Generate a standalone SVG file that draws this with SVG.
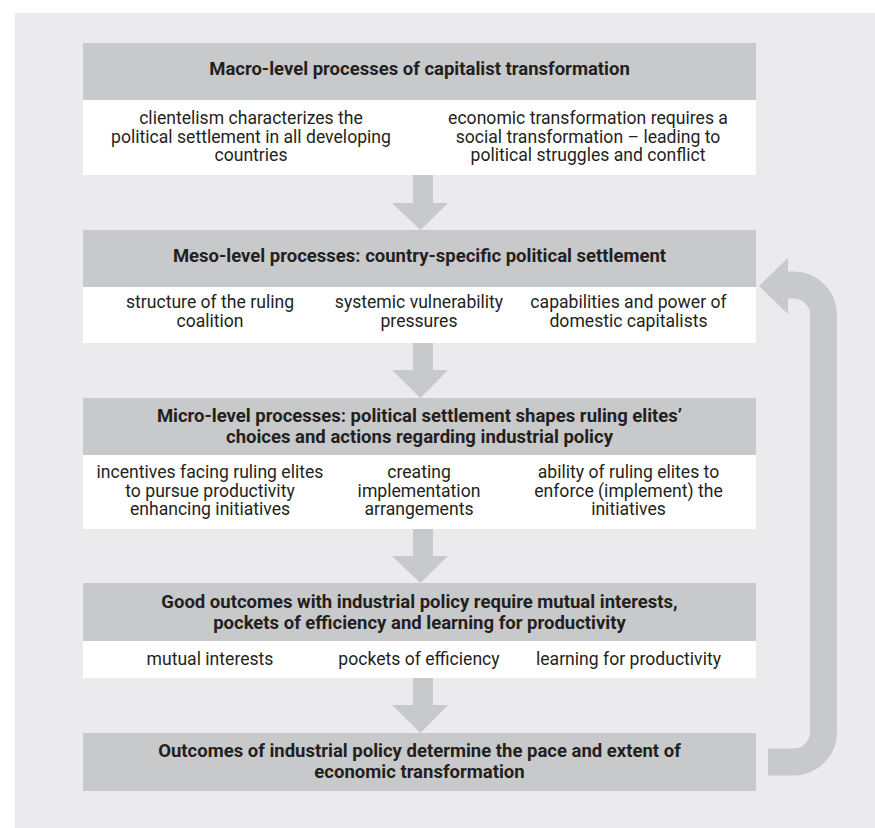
<svg xmlns="http://www.w3.org/2000/svg" width="875" height="828" viewBox="0 0 875 828">
<style>
.hdr{fill:#c8c9ca}
.body{fill:#ffffff}
.ht{font-family:Roboto,"Liberation Sans",sans-serif;font-weight:bold;font-size:18.5px;fill:#231f20;text-anchor:middle}
.bt{font-family:Roboto,"Liberation Sans",sans-serif;font-size:17.6px;fill:#231f20;text-anchor:middle}
.arr{fill:#c8c9ca}
</style>
<rect x="15" y="13" width="860" height="815" fill="#ebebed"/>
<g id="connectors">
<polygon class="arr" points="413,175 433,175 433,203 448,203 420.5,230 392,203 413,203"/>
<polygon class="arr" points="413,343 433,343 433,370 448,370 420.5,398 392,370 413,370"/>
<polygon class="arr" points="413,529 433,529 433,556 448,556 420.5,583 392,556 413,556"/>
<polygon class="arr" points="413,678 433,678 433,705 448,705 420.5,733 392,705 413,705"/>
<path d="M768 762 H793.5 A30 30 0 0 0 823.5 732 V315 A30 30 0 0 0 793.5 285 H786" fill="none" stroke="#c8c9ca" stroke-width="27"/>
<polygon class="arr" points="788,258 788,314 759,286"/>
</g>
<g id="macro">
<rect class="hdr" x="83" y="43" width="673" height="57"/>
<rect class="body" x="83" y="100" width="673" height="75"/>
<text class="ht" x="419.5" y="75">Macro-level processes of capitalist transformation</text>
<text class="bt" x="251" y="124">clientelism characterizes the</text>
<text class="bt" x="251" y="142.5">political settlement in all developing</text>
<text class="bt" x="251" y="161">countries</text>
<text class="bt" x="588" y="124">economic transformation requires a</text>
<text class="bt" x="588" y="142.5">social transformation – leading to</text>
<text class="bt" x="588" y="161">political struggles and conflict</text>
</g>
<g id="meso">
<rect class="hdr" x="83" y="230" width="673" height="57"/>
<rect class="body" x="83" y="287" width="673" height="56"/>
<text class="ht" x="419.5" y="262">Meso-level processes: country-specific political settlement</text>
<text class="bt" x="210" y="308">structure of the ruling</text>
<text class="bt" x="210" y="326.5">coalition</text>
<text class="bt" x="419" y="308">systemic vulnerability</text>
<text class="bt" x="419" y="326.5">pressures</text>
<text class="bt" x="628.5" y="308">capabilities and power of</text>
<text class="bt" x="628.5" y="326.5">domestic capitalists</text>
</g>
<g id="micro">
<rect class="hdr" x="83" y="398" width="673" height="57"/>
<rect class="body" x="83" y="455" width="673" height="74"/>
<text class="ht" x="419.5" y="422">Micro-level processes: political settlement shapes ruling elites’</text>
<text class="ht" x="419.5" y="443">choices and actions regarding industrial policy</text>
<text class="bt" x="210" y="478">incentives facing ruling elites</text>
<text class="bt" x="210" y="496.5">to pursue productivity</text>
<text class="bt" x="210" y="515">enhancing initiatives</text>
<text class="bt" x="419" y="478">creating</text>
<text class="bt" x="419" y="496.5">implementation</text>
<text class="bt" x="419" y="515">arrangements</text>
<text class="bt" x="628.5" y="478">ability of ruling elites to</text>
<text class="bt" x="628.5" y="496.5">enforce (implement) the</text>
<text class="bt" x="628.5" y="515">initiatives</text>
</g>
<g id="good">
<rect class="hdr" x="83" y="583" width="673" height="58"/>
<rect class="body" x="83" y="641" width="673" height="37"/>
<text class="ht" x="419.5" y="608">Good outcomes with industrial policy require mutual interests,</text>
<text class="ht" x="419.5" y="629">pockets of efficiency and learning for productivity</text>
<text class="bt" x="210" y="665">mutual interests</text>
<text class="bt" x="419" y="665">pockets of efficiency</text>
<text class="bt" x="628.5" y="665">learning for productivity</text>
</g>
<g id="outcomes">
<rect class="hdr" x="83" y="733" width="673" height="58"/>
<text class="ht" x="419.5" y="757">Outcomes of industrial policy determine the pace and extent of</text>
<text class="ht" x="419.5" y="778">economic transformation</text>
</g>
</svg>
